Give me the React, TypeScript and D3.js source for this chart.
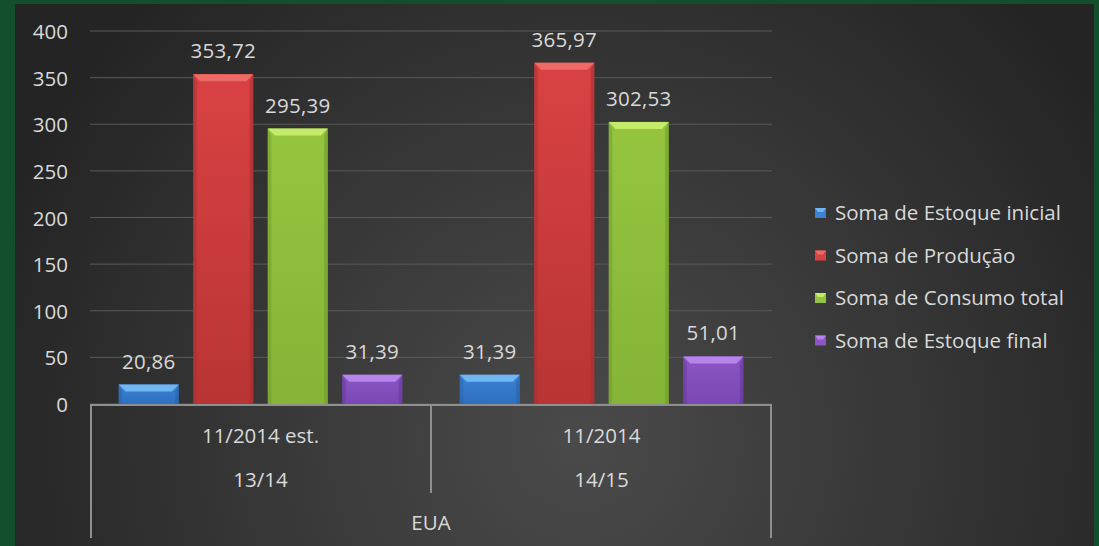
import React from "react";
import * as d3 from "d3";

const periods = ["11/2014 est.", "11/2014"];
const seasons = ["13/14", "14/15"];
const country = "EUA";
const seriesNames = [
  "Soma de Estoque inicial",
  "Soma de Produção",
  "Soma de Consumo total",
  "Soma de Estoque final",
];
const estoqueInicial = [20.86, 31.39];
const producao = [353.72, 365.97];
const consumoTotal = [295.39, 302.53];
const estoqueFinal = [31.39, 51.01];
const yTicks = [0, 50, 100, 150, 200, 250, 300, 350, 400];

const seriesValues = [estoqueInicial, producao, consumoTotal, estoqueFinal];

const palettes = [
  { main: "#3b82d4", light: "#6fb6f2", dark: "#2a63a8", bottom: "#2f6fbf" },
  { main: "#d94242", light: "#ee6a66", dark: "#a82f2f", bottom: "#b93434" },
  { main: "#95c53f", light: "#c4ec68", dark: "#6f9a2c", bottom: "#85b437" },
  { main: "#8b55c6", light: "#b684ea", dark: "#64389a", bottom: "#7a48b4" },
];

const W = 1099;
const H = 546;
const FONT = "'Open Sans', 'Liberation Sans', sans-serif";
const TEXT = "#d9d9d9";
const FS = 20.5;

const fmt = (v: number) => d3.format(".2f")(v).replace(".", ",");

export default function App() {
  const y = d3.scaleLinear().domain([0, 400]).range([404, 31]);
  const x0 = d3.scaleBand<string>().domain(periods).range([90, 772]).padding(0);
  const x1 = d3
    .scaleBand<string>()
    .domain(seriesNames)
    .range([0, x0.bandwidth()])
    .paddingInner(0.195)
    .paddingOuter(0.386);
  const bw = x1.bandwidth();
  const bev = 7;

  return (
    <svg
      width={W}
      height={H}
      style={{ position: "absolute", left: 0, top: 0, display: "block" }}
      fontFamily={FONT}
    >
      <defs>
        <radialGradient id="bg" cx="580" cy="440" r="620" gradientUnits="userSpaceOnUse">
          <stop offset="0" stopColor="#4a4a4a" />
          <stop offset="0.55" stopColor="#363636" />
          <stop offset="1" stopColor="#242424" />
        </radialGradient>
        {palettes.map((p, i) => (
          <linearGradient key={i} id={`bar${i}`} x1="0" y1="0" x2="0" y2="1">
            <stop offset="0" stopColor={p.main} />
            <stop offset="1" stopColor={p.bottom} />
          </linearGradient>
        ))}
      </defs>
      <rect x={0} y={0} width={W} height={H} fill="#134f2c" />
      <rect x={15} y={4} width={1079} height={H - 4} fill="url(#bg)" />

      {/* gridlines */}
      {yTicks.map((t) => (
        <line key={t} x1={90} x2={772} y1={y(t)} y2={y(t)} stroke="#5a5a5a" strokeWidth={1} />
      ))}
      {/* y tick labels */}
      {yTicks.map((t) => (
        <text key={"l" + t} x={68} y={y(t) + 8} textAnchor="end" fontSize={FS} fill={TEXT}>
          {t}
        </text>
      ))}

      {/* bars */}
      {periods.map((per, ci) =>
        seriesNames.map((s, si) => {
          const v = seriesValues[si][ci];
          const bx = (x0(per) as number) + (x1(s) as number);
          const by = y(v);
          const bh = y(0) - by;
          const p = palettes[si];
          const b = Math.min(bev, bh / 2);
          return (
            <g key={per + s}>
              <rect x={bx} y={by} width={bw} height={bh} fill={`url(#bar${si})`} />
              <polygon
                points={`${bx},${by} ${bx + bw},${by} ${bx + bw - b},${by + b} ${bx + b},${by + b}`}
                fill={p.light}
              />
              <polygon
                points={`${bx},${by} ${bx + b * 0.5},${by + b} ${bx + b * 0.5},${by + bh} ${bx},${by + bh}`}
                fill={p.dark}
                opacity={0.5}
              />
              <polygon
                points={`${bx + bw},${by} ${bx + bw - b * 0.5},${by + b} ${bx + bw - b * 0.5},${by + bh} ${bx + bw},${by + bh}`}
                fill={p.dark}
                opacity={0.6}
              />
              <text
                x={bx + bw / 2}
                y={by - 16}
                textAnchor="middle"
                fontSize={FS}
                fill={TEXT}
                letterSpacing={0.3}
              >
                {fmt(v)}
              </text>
            </g>
          );
        })
      )}

      {/* category axis */}
      <line x1={90} x2={772} y1={y(0) + 1} y2={y(0) + 1} stroke="#8f8f8f" strokeWidth={2} />
      <line x1={91} x2={91} y1={y(0)} y2={538} stroke="#8f8f8f" strokeWidth={2} />
      <line x1={771} x2={771} y1={y(0)} y2={538} stroke="#8f8f8f" strokeWidth={2} />
      <line x1={431} x2={431} y1={y(0)} y2={493} stroke="#8f8f8f" strokeWidth={2} />
      {periods.map((per, ci) => {
        const cx = (x0(per) as number) + x0.bandwidth() / 2;
        return (
          <g key={"c" + per}>
            <text x={cx} y={443} textAnchor="middle" fontSize={FS} fill={TEXT}>
              {per}
            </text>
            <text x={cx} y={487} textAnchor="middle" fontSize={FS} fill={TEXT}>
              {seasons[ci]}
            </text>
          </g>
        );
      })}
      <text x={(90 + 772) / 2} y={530} textAnchor="middle" fontSize={FS} fill={TEXT}>
        {country}
      </text>

      {/* legend */}
      {seriesNames.map((s, i) => {
        const ly = 213 + i * 42.5;
        const p = palettes[i];
        return (
          <g key={"lg" + s}>
            <rect x={815} y={ly - 5} width={11} height={10} fill={p.main} />
            <polygon
              points={`815,${ly - 5} 826,${ly - 5} 823,${ly - 1} 818,${ly - 1}`}
              fill={p.light}
            />
            <text x={835} y={ly + 7} fontSize={FS} fill={TEXT}>
              {s}
            </text>
          </g>
        );
      })}
    </svg>
  );
}
